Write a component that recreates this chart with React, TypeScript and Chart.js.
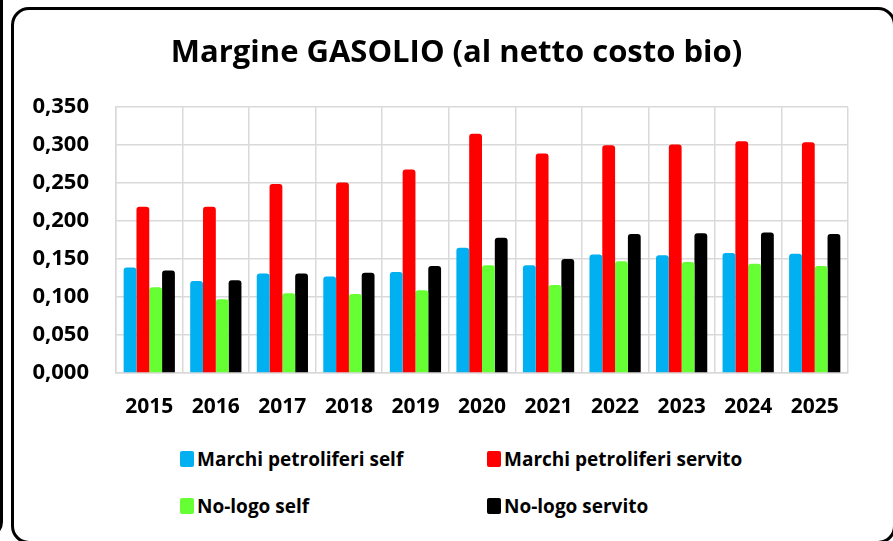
import React, { useEffect, useRef } from "react";
import { Chart, registerables } from "chart.js";

Chart.register(...registerables);

const years = ["2015", "2016", "2017", "2018", "2019", "2020", "2021", "2022", "2023", "2024", "2025"];
const marchiSelf = [0.139, 0.121, 0.131, 0.127, 0.133, 0.165, 0.142, 0.156, 0.155, 0.158, 0.157];
const marchiServito = [0.219, 0.219, 0.249, 0.251, 0.268, 0.315, 0.289, 0.300, 0.301, 0.305, 0.304];
const noLogoSelf = [0.113, 0.097, 0.105, 0.104, 0.109, 0.142, 0.116, 0.147, 0.146, 0.144, 0.141];
const noLogoServito = [0.135, 0.122, 0.131, 0.132, 0.141, 0.178, 0.150, 0.183, 0.184, 0.185, 0.183];
const seriesNames = ["Marchi petroliferi self", "Marchi petroliferi servito", "No-logo self", "No-logo servito"];
const seriesColors = ["#00b0f0", "#ff0000", "#66ff33", "#000000"];
const yTicks = [0, 0.05, 0.1, 0.15, 0.2, 0.25, 0.3, 0.35];
const titleText = "Margine GASOLIO (al netto costo bio)";

const FONT = "'Open Sans', 'DejaVu Sans', sans-serif";

export default function App() {
  const ref = useRef<HTMLCanvasElement | null>(null);

  useEffect(() => {
    if (!ref.current) return;
    const seriesData = [marchiSelf, marchiServito, noLogoSelf, noLogoServito];
    const chart = new Chart(ref.current, {
      type: "bar",
      data: {
        labels: years,
        datasets: seriesData.map((d, i) => ({
          label: seriesNames[i],
          data: d,
          backgroundColor: seriesColors[i],
          borderRadius: 3,
          borderSkipped: "bottom",
          barPercentage: 1.0,
          categoryPercentage: 0.77,
        })),
      },
      options: {
        responsive: false,
        animation: false,
        layout: { padding: { left: 20, right: 0, top: 0, bottom: 0 } },
        plugins: {
          legend: { display: false },
          tooltip: { enabled: false },
          title: {
            display: true,
            text: titleText,
            color: "#000",
            font: { family: FONT, size: 31, weight: "bold", lineHeight: 1.2 },
            padding: { top: 35, bottom: 35 },
          },
        },
        scales: {
          x: {
            grid: { color: "#d9d9d9", lineWidth: 1.5, drawTicks: false, offset: true },
            border: { color: "#d9d9d9", width: 1.5 },
            ticks: {
              color: "#000",
              padding: 21,
              font: { family: FONT, size: 21, weight: "bold", lineHeight: 1.2 },
              maxRotation: 0,
              autoSkip: false,
            },
            afterFit: (s: any) => {
              s.height = 57;
            },
          },
          y: {
            min: 0,
            max: 0.35,
            afterBuildTicks: (s: any) => {
              s.ticks = yTicks.map((v) => ({ value: v }));
            },
            grid: { color: "#d9d9d9", lineWidth: 1.5, drawTicks: false },
            border: { color: "#d9d9d9", width: 1.5 },
            ticks: {
              color: "#000",
              padding: 27,
              font: { family: FONT, size: 22, weight: "bold" },
              callback: (v: any) => Number(v).toFixed(3).replace(".", ","),
            },
            afterFit: (s: any) => {
              s.width = 96;
            },
          },
          spacer: {
            type: "linear",
            position: "right",
            display: true,
            grid: { display: false, drawOnChartArea: false, drawTicks: false },
            border: { display: false },
            ticks: { display: false },
            afterFit: (s: any) => {
              s.width = 45;
            },
          },
        },
      },
    });
    return () => chart.destroy();
  }, []);

  const legendRows = [0, 1];
  const legendCols = [0, 1];

  return (
    <div
      style={{
        position: "fixed",
        left: 0,
        top: 0,
        width: 893,
        height: 541,
        overflow: "hidden",
        background: "#fff",
        fontFamily: FONT,
      }}
    >
      <div
        style={{
          position: "absolute",
          left: -30,
          top: -20,
          width: 33,
          height: 558,
          border: "3px solid #000",
          borderRadius: 16,
          boxSizing: "border-box",
        }}
      />
      <div
        style={{
          position: "absolute",
          left: 11,
          top: 7,
          width: 885,
          height: 537,
          border: "3px solid #000",
          borderRadius: 18,
          boxSizing: "border-box",
        }}
      />
      <canvas ref={ref} width={893} height={430} style={{ position: "absolute", left: 0, top: 0 }} />
      {legendRows.map((r) =>
        legendCols.map((c) => {
          const i = r * 2 + c;
          return (
            <div
              key={i}
              style={{
                position: "absolute",
                left: 180 + c * 307,
                top: 459 + r * 47 - 13,
                height: 26,
                display: "flex",
                alignItems: "center",
                fontWeight: "bold",
                fontSize: 19,
                color: "#000",
                whiteSpace: "nowrap",
              }}
            >
              <span
                style={{
                  display: "inline-block",
                  width: 14,
                  height: 16,
                  background: seriesColors[i],
                  borderRadius: 2,
                  marginRight: 3,
                }}
              />
              {seriesNames[i]}
            </div>
          );
        })
      )}
    </div>
  );
}
